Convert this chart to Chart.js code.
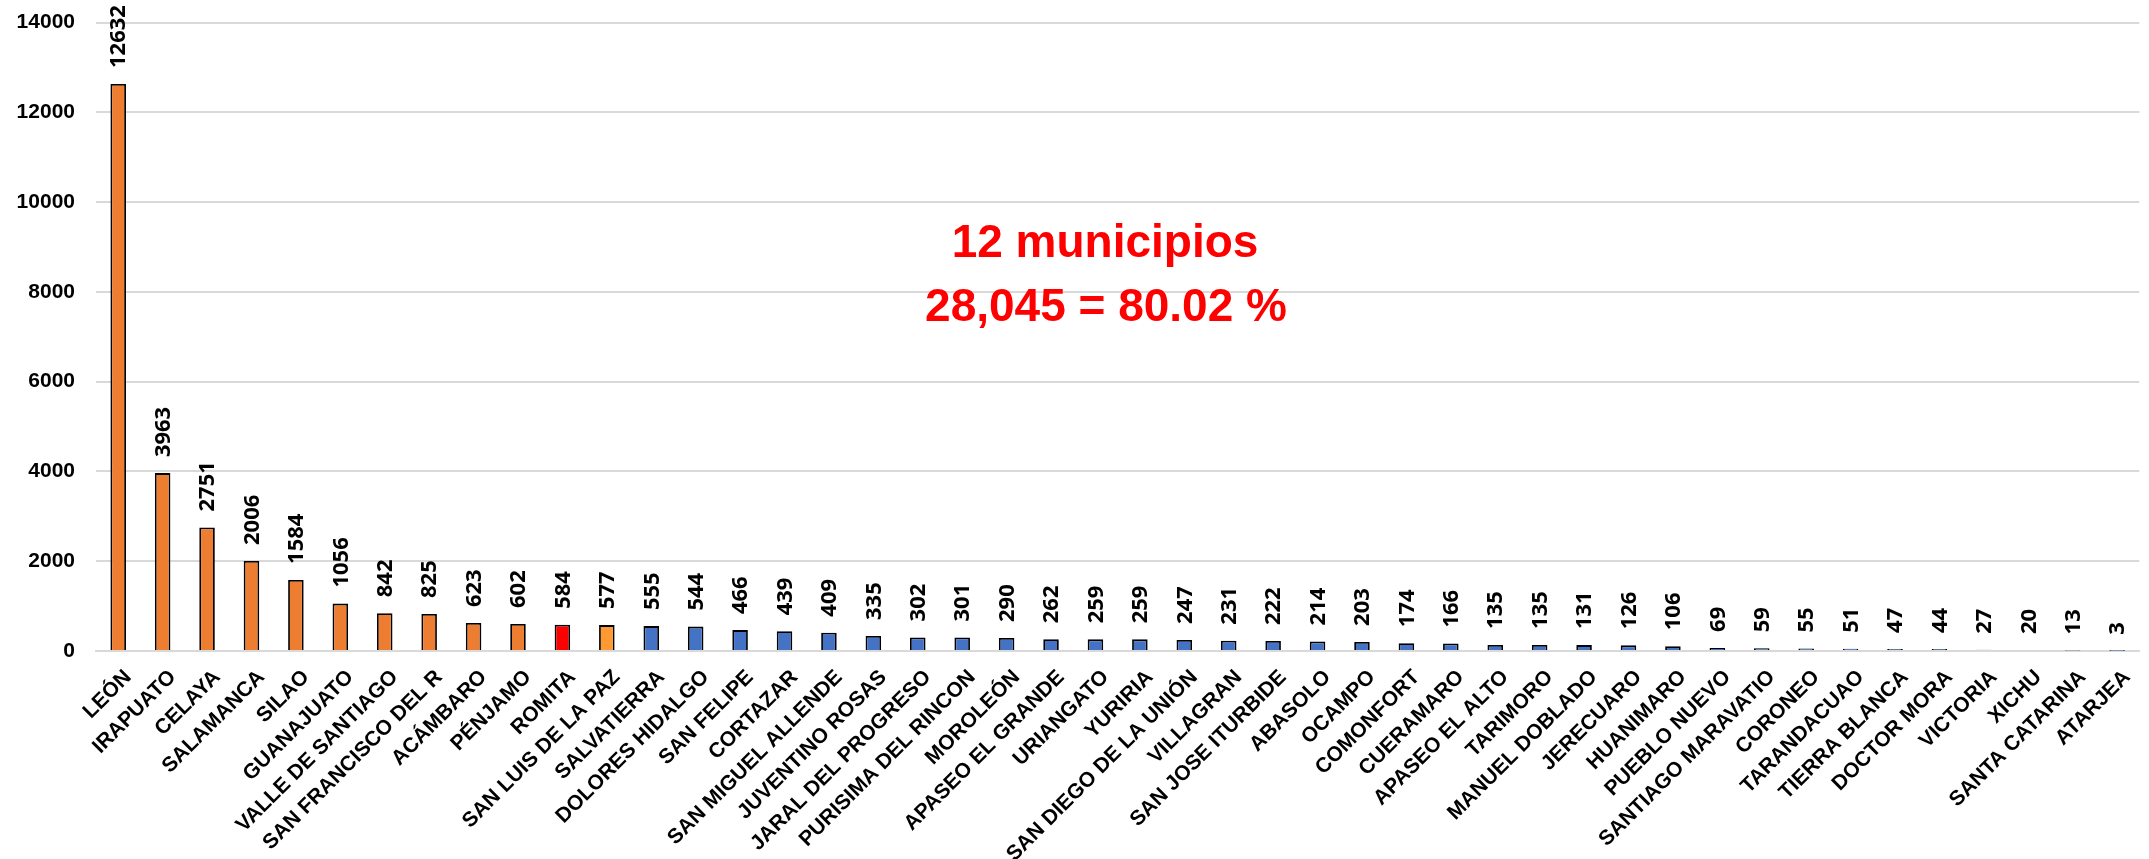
<!DOCTYPE html>
<html>
<head>
<meta charset="utf-8">
<script src="https://cdn.jsdelivr.net/npm/chart.js@4/dist/chart.umd.min.js"></script>
<style>
  html, body { margin: 0; padding: 0; background: #ffffff; }
  #wrap { width: 2149px; height: 859px; position: relative; }
</style>
</head>
<body>
<div id="wrap"><canvas id="c" width="2149" height="859"></canvas></div>
<script>
const municipios = ["LEÓN","IRAPUATO","CELAYA","SALAMANCA","SILAO","GUANAJUATO","VALLE DE SANTIAGO","SAN FRANCISCO DEL R","ACÁMBARO","PÉNJAMO","ROMITA","SAN LUIS DE LA PAZ","SALVATIERRA","DOLORES HIDALGO","SAN FELIPE","CORTAZAR","SAN MIGUEL ALLENDE","JUVENTINO ROSAS","JARAL DEL PROGRESO","PURISIMA DEL RINCON","MOROLEÓN","APASEO EL GRANDE","URIANGATO","YURIRIA","SAN DIEGO DE LA UNIÓN","VILLAGRAN","SAN JOSE ITURBIDE","ABASOLO","OCAMPO","COMONFORT","CUERAMARO","APASEO EL ALTO","TARIMORO","MANUEL DOBLADO","JERECUARO","HUANIMARO","PUEBLO NUEVO","SANTIAGO MARAVATIO","CORONEO","TARANDACUAO","TIERRA BLANCA","DOCTOR MORA","VICTORIA","XICHU","SANTA CATARINA","ATARJEA"];
const casos = [12632,3963,2751,2006,1584,1056,842,825,623,602,584,577,555,544,466,439,409,335,302,301,290,262,259,259,247,231,222,214,203,174,166,135,135,131,126,106,69,59,55,51,47,44,27,20,13,3];
const yTicks = [0,2000,4000,6000,8000,10000,12000,14000];
const notaLineas = ["12 municipios","28,045 = 80.02 %"];
const topGroupSize = 12;          // first 12 municipios highlighted
const romitaName = "ROMITA";
const sanLuisName = "SAN LUIS DE LA PAZ";

const ORANGE = "#ED7D31", RED = "#FF0000", LIGHT_ORANGE = "#FF9A33", BLUE = "#4472C4";
const barColors = municipios.map((m, i) => {
  if (m === romitaName) return RED;
  if (m === sanLuisName) return LIGHT_ORANGE;
  return i < topGroupSize ? ORANGE : BLUE;
});

const valueLabels = {
  id: 'valueLabels',
  afterDatasetsDraw(chart) {
    const ctx = chart.ctx;
    const meta = chart.getDatasetMeta(0);
    ctx.save();
    ctx.fillStyle = '#000000';
    ctx.font = 'bold 22px "Open Sans", "DejaVu Sans", sans-serif';
    ctx.textAlign = 'left';
    ctx.textBaseline = 'middle';
    meta.data.forEach((bar, i) => {
      ctx.save();
      ctx.translate(bar.x + 1, bar.y - 16);
      ctx.rotate(-Math.PI / 2);
      ctx.fillText(String(casos[i]), 0, 0);
      ctx.restore();
    });
    ctx.restore();
  }
};

const nota = {
  id: 'nota',
  afterDraw(chart) {
    const ctx = chart.ctx;
    ctx.save();
    ctx.fillStyle = '#FF0000';
    ctx.font = 'bold 46px "Liberation Sans", Arial, sans-serif';
    ctx.textAlign = 'center';
    ctx.textBaseline = 'alphabetic';
    ctx.fillText(notaLineas[0], 1105, 257);
    ctx.fillText(notaLineas[1], 1106, 321);
    ctx.restore();
  }
};

new Chart(document.getElementById('c'), {
  type: 'bar',
  data: {
    labels: municipios,
    datasets: [{
      data: casos,
      backgroundColor: barColors,
      borderColor: '#000000',
      borderWidth: 1.8,
      barPercentage: 0.35,
      categoryPercentage: 1.0
    }]
  },
  options: {
    responsive: false,
    animation: false,
    devicePixelRatio: 1,
    layout: { padding: { left: 0, right: 6, top: 20, bottom: 0 } },
    plugins: { legend: { display: false }, tooltip: { enabled: false }, title: { display: false } },
    scales: {
      x: {
        offset: true,
        grid: { display: false, drawTicks: false },
        border: { display: true, color: '#D9D9D9', width: 2 },
        ticks: {
          autoSkip: false,
          maxRotation: 45,
          minRotation: 45,
          padding: 14,
          labelOffset: 10,
          color: '#000000',
          font: { family: '"Liberation Sans", Arial, sans-serif', size: 21, weight: 'bold' }
        },
        afterFit(scale) { scale.height = 208; }
      },
      y: {
        min: 0,
        max: 14000,
        afterBuildTicks(scale) { scale.ticks = yTicks.map(v => ({ value: v })); },
        grid: { color: '#D9D9D9', lineWidth: 2, drawTicks: true, tickLength: 11, tickColor: 'rgba(0,0,0,0)' },
        border: { display: false },
        ticks: {
          padding: 10,
          color: '#000000',
          callback: (v) => String(v),
          font: { family: '"Liberation Sans", Arial, sans-serif', size: 21, weight: 'bold' }
        },
        afterFit(scale) { scale.width = 96; }
      }
    }
  },
  plugins: [valueLabels, nota]
});
</script>
</body>
</html>
